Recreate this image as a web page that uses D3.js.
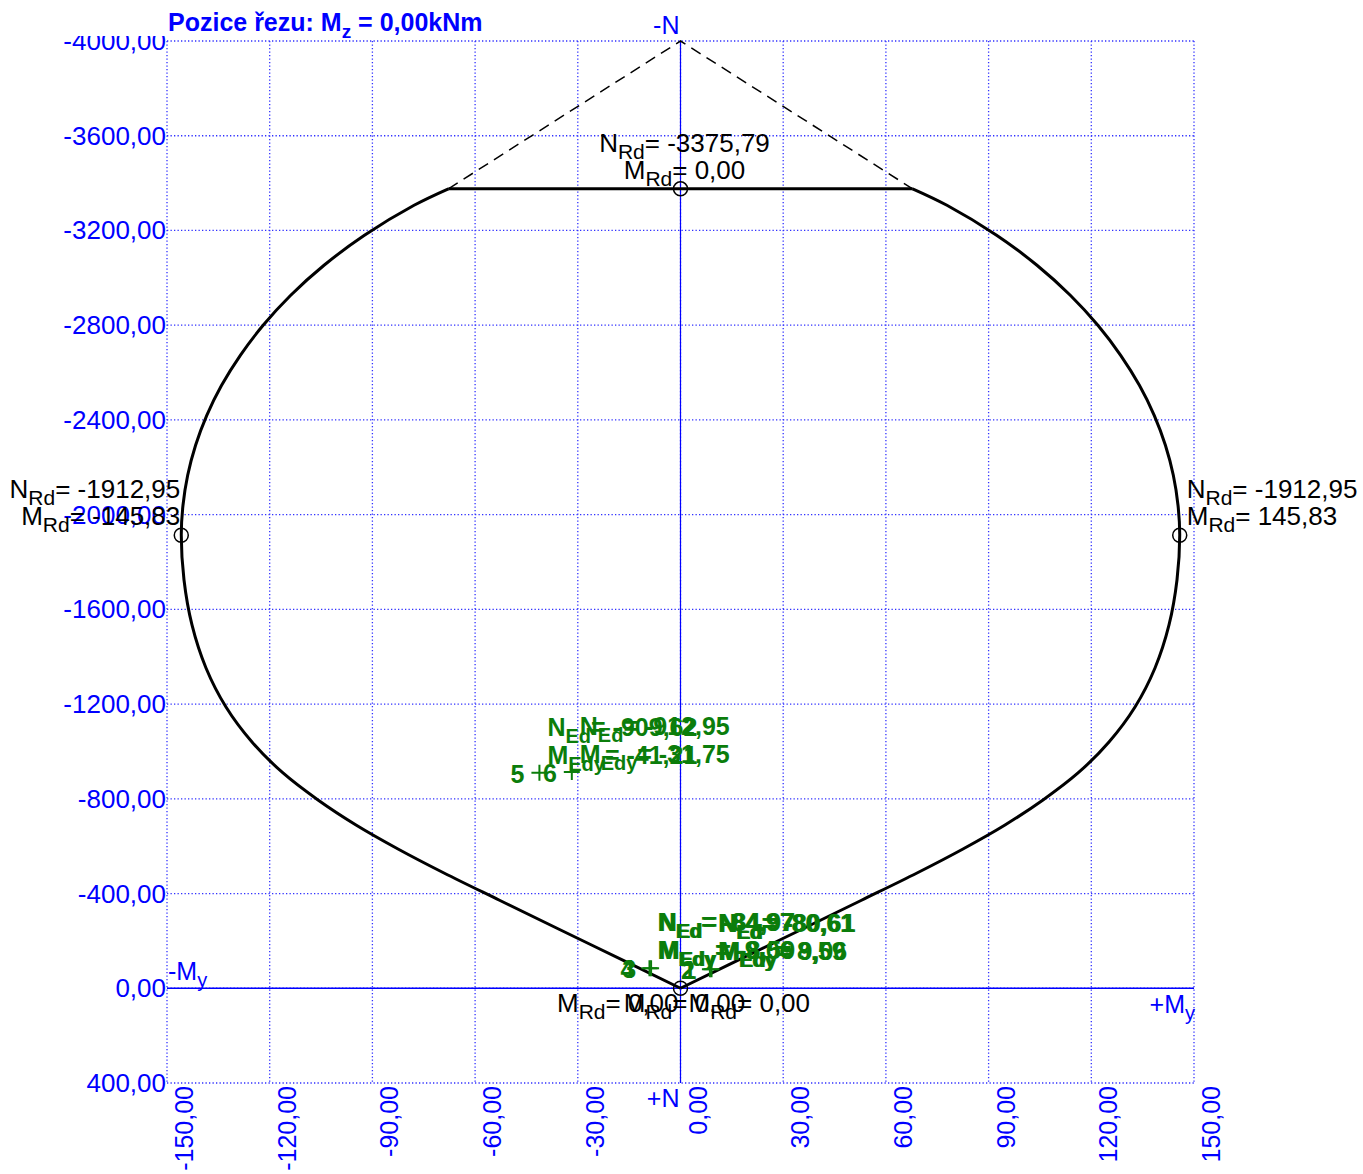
<!DOCTYPE html>
<html>
<head>
<meta charset="utf-8">
<script src="https://cdn.jsdelivr.net/npm/d3@7"></script>
<style>
  body { margin: 0; background: #fff; }
  text { font-family: "Liberation Sans", Arial, sans-serif; }
</style>
</head>
<body>
<svg id="chart"></svg>
<script>
// axis ticks
const mTicks = [-150, -120, -90, -60, -30, 0, 30, 60, 90, 120, 150];
const nTicks = [-4000, -3600, -3200, -2800, -2400, -2000, -1600, -1200, -800, -400, 0, 400];

// interaction diagram, left branch (top corner -> bottom point)
const leftM = [-67.8, -77.83, -92.33, -104.13, -113.86, -121.92, -128.58, -134.05, -138.38, -141.65, -143.96, -145.33,
               -145.83, -145.04, -142.70, -138.61, -132.77, -125.17, -116.12, -105.89, -94.79, -82.52, -69.09, -52.73, -26.44, 0];
const leftN = [-3375.79, -3306.3, -3179.6, -3053.0, -2926.3, -2799.6, -2672.9, -2546.2, -2419.5, -2292.9, -2166.2, -2039.5,
               -1912.95, -1725.0, -1534.1, -1352.5, -1187.8, -1040.0, -909.1, -795.1, -689.5, -588.2, -486.8, -370.7, -185.8, 0];
// right branch (bottom point -> top corner)
const rightM = [0, 26.44, 52.73, 69.09, 82.52, 94.79, 105.89, 116.12, 125.17, 132.77, 138.61, 142.70, 145.04, 145.83,
                145.33, 143.96, 141.65, 138.38, 134.05, 128.58, 121.92, 113.86, 104.13, 92.33, 77.83, 67.8];
const rightN = [0, -185.8, -370.7, -486.8, -588.2, -689.5, -795.1, -909.1, -1040.0, -1187.8, -1352.5, -1534.1, -1725.0, -1912.95,
                -2039.5, -2166.2, -2292.9, -2419.5, -2546.2, -2672.9, -2799.6, -2926.3, -3053.0, -3179.6, -3306.3, -3375.79];

// dashed cap to the apex
const capM = [-67.8, 0, 67.8];
const capN = [-3375.79, -4000, -3375.79];

// resistance points with labels
const rdM = [0, -145.83, 145.83];
const rdN = [-3375.79, -1912.95, -1912.95];
const rdAnchor = ["middle", "end", "start"];
const rdDx = [4, -1, 7];
// bottom point, M labels only
const rdBottomAnchor = ["end", "middle", "start"];
const rdBottomDx = [-2, 4, 8];

// design loads
const edId = [3, 4, 1, 2, 5, 6];
const edN = [-84.97, -84.97, -80.61, -80.61, -909.62, -912.95];
const edM = [-8.59, -9.06, 9.06, 8.59, -41.21, -31.75];

const width = 1363, height = 1174;
const blue = "#0000ff", green = "#0b7d0b";

const loc = d3.formatLocale({decimal: ",", thousands: "", grouping: [3], currency: ["", ""], minus: "-"});
const fmt = loc.format(".2f");

const svg = d3.select("#chart").attr("width", width).attr("height", height);

const x = d3.scaleLinear().domain([-150, 150]).range([167, 1194]);
const y = d3.scaleLinear().domain([-4000, 400]).range([41, 1083]);

// grid
svg.append("g").selectAll("line").data(mTicks).enter().append("line")
   .attr("x1", d => x(d)).attr("x2", d => x(d))
   .attr("y1", y(-4000)).attr("y2", y(400))
   .attr("stroke", "#3030ff").attr("stroke-width", 1.3).attr("stroke-dasharray", "1.3,2.2");
svg.append("g").selectAll("line").data(nTicks).enter().append("line")
   .attr("x1", x(-150)).attr("x2", x(150))
   .attr("y1", d => y(d)).attr("y2", d => y(d))
   .attr("stroke", "#3030ff").attr("stroke-width", 1.3).attr("stroke-dasharray", "1.3,2.2");

// main axes
svg.append("line").attr("x1", x(-150)).attr("x2", x(150)).attr("y1", y(0)).attr("y2", y(0))
   .attr("stroke", blue).attr("stroke-width", 1.5);
svg.append("line").attr("x1", x(0)).attr("x2", x(0)).attr("y1", y(-4000)).attr("y2", y(400))
   .attr("stroke", blue).attr("stroke-width", 1.2);

// tick labels
svg.append("clipPath").attr("id", "lblclip").append("rect")
   .attr("x", 0).attr("y", 36).attr("width", 170).attr("height", 1100);
svg.append("g").attr("clip-path", "url(#lblclip)")
   .selectAll("text").data(nTicks).enter().append("text")
   .attr("x", 166).attr("y", d => y(d) + 9)
   .attr("text-anchor", "end").attr("font-size", 26).attr("fill", blue)
   .text(d => fmt(d));
svg.append("g").selectAll("text").data(mTicks).enter().append("text")
   .attr("transform", d => `translate(${x(d) + 26},${y(400) + 3}) rotate(-90)`)
   .attr("text-anchor", "end").attr("font-size", 25).attr("fill", blue)
   .text(d => fmt(d));

// text with subscript helper
function subText(sel, main, sub, rest, size, subSize) {
  sel.append("tspan").text(main);
  sel.append("tspan").attr("font-size", subSize).attr("dy", 7).text(sub);
  sel.append("tspan").attr("font-size", size).attr("dy", -7).text(rest);
}

// axis captions
svg.append("text").attr("x", x(0) - 1).attr("y", 34).attr("text-anchor", "end")
   .attr("font-size", 25).attr("fill", blue).text("-N");
svg.append("text").attr("x", x(0) - 1).attr("y", 1107).attr("text-anchor", "end")
   .attr("font-size", 25).attr("fill", blue).text("+N");
svg.append("text").attr("x", x(-150) + 1).attr("y", 980).attr("font-size", 25).attr("fill", blue)
   .call(subText, "-M", "y", "", 25, 20);
svg.append("text").attr("x", x(150) + 1).attr("y", 1013).attr("text-anchor", "end").attr("font-size", 25).attr("fill", blue)
   .call(subText, "+M", "y", "", 25, 20);

// title
svg.append("text").attr("x", 168).attr("y", 31).attr("font-size", 25).attr("font-weight", "bold").attr("fill", blue)
   .call(subText, "Pozice řezu: M", "z", " = 0,00kNm", 25, 19);

// envelope
const line = d3.line().x(d => x(d[0])).y(d => y(d[1]));
const curve = d3.line().x(d => x(d[0])).y(d => y(d[1])).curve(d3.curveCatmullRom.alpha(0.5));
svg.append("path").datum(capM.map((m, i) => [m, capN[i]]))
   .attr("d", line).attr("fill", "none").attr("stroke", "#000")
   .attr("stroke-width", 1.5).attr("stroke-dasharray", "11,7");
svg.append("path").datum(leftM.map((m, i) => [m, leftN[i]])).attr("d", curve)
   .attr("fill", "none").attr("stroke", "#000").attr("stroke-width", 3);
svg.append("path").datum(rightM.map((m, i) => [m, rightN[i]])).attr("d", curve)
   .attr("fill", "none").attr("stroke", "#000").attr("stroke-width", 3);
svg.append("path").datum([[leftM[0], leftN[0]], [rightM[rightM.length - 1], rightN[rightN.length - 1]]])
   .attr("d", line).attr("fill", "none").attr("stroke", "#000").attr("stroke-width", 3);

// resistance points
const rdAll = rdM.map((m, i) => [m, rdN[i]]).concat([[0, 0]]);
svg.append("g").selectAll("circle").data(rdAll).enter().append("circle")
   .attr("cx", d => x(d[0])).attr("cy", d => y(d[1])).attr("r", 7)
   .attr("fill", "none").attr("stroke", "#000").attr("stroke-width", 1.5);

rdM.forEach((m, i) => {
  const px = x(m) + rdDx[i], py = y(rdN[i]);
  svg.append("text").attr("x", px).attr("y", py - 37).attr("text-anchor", rdAnchor[i])
     .attr("font-size", 26).attr("fill", "#000")
     .call(subText, "N", "Rd", "= " + fmt(rdN[i]), 26, 21);
  svg.append("text").attr("x", px).attr("y", py - 10).attr("text-anchor", rdAnchor[i])
     .attr("font-size", 26).attr("fill", "#000")
     .call(subText, "M", "Rd", "= " + fmt(m), 26, 21);
});
rdBottomAnchor.forEach((a, i) => {
  svg.append("text").attr("x", x(0) + rdBottomDx[i]).attr("y", y(0) + 24).attr("text-anchor", a)
     .attr("font-size", 26).attr("fill", "#000")
     .call(subText, "M", "Rd", "= " + fmt(0), 26, 21);
});

// design loads
edM.forEach((m, i) => {
  const px = x(m), py = y(edN[i]);
  svg.append("path").attr("d", `M${px - 8},${py}H${px + 8}M${px},${py - 8}V${py + 8}`)
     .attr("stroke", green).attr("stroke-width", 2);
  svg.append("text").attr("x", px - 15).attr("y", py + 10).attr("text-anchor", "end")
     .attr("font-size", 25).attr("font-weight", "bold").attr("fill", green).text(edId[i]);
  svg.append("text").attr("x", px + 8).attr("y", py - 37)
     .attr("font-size", 25).attr("font-weight", "bold").attr("fill", green)
     .call(subText, "N", "Ed", "= " + fmt(edN[i]), 25, 20);
  svg.append("text").attr("x", px + 8).attr("y", py - 9)
     .attr("font-size", 25).attr("font-weight", "bold").attr("fill", green)
     .call(subText, "M", "Edy", "= " + fmt(m), 25, 20);
});
</script>
</body>
</html>
